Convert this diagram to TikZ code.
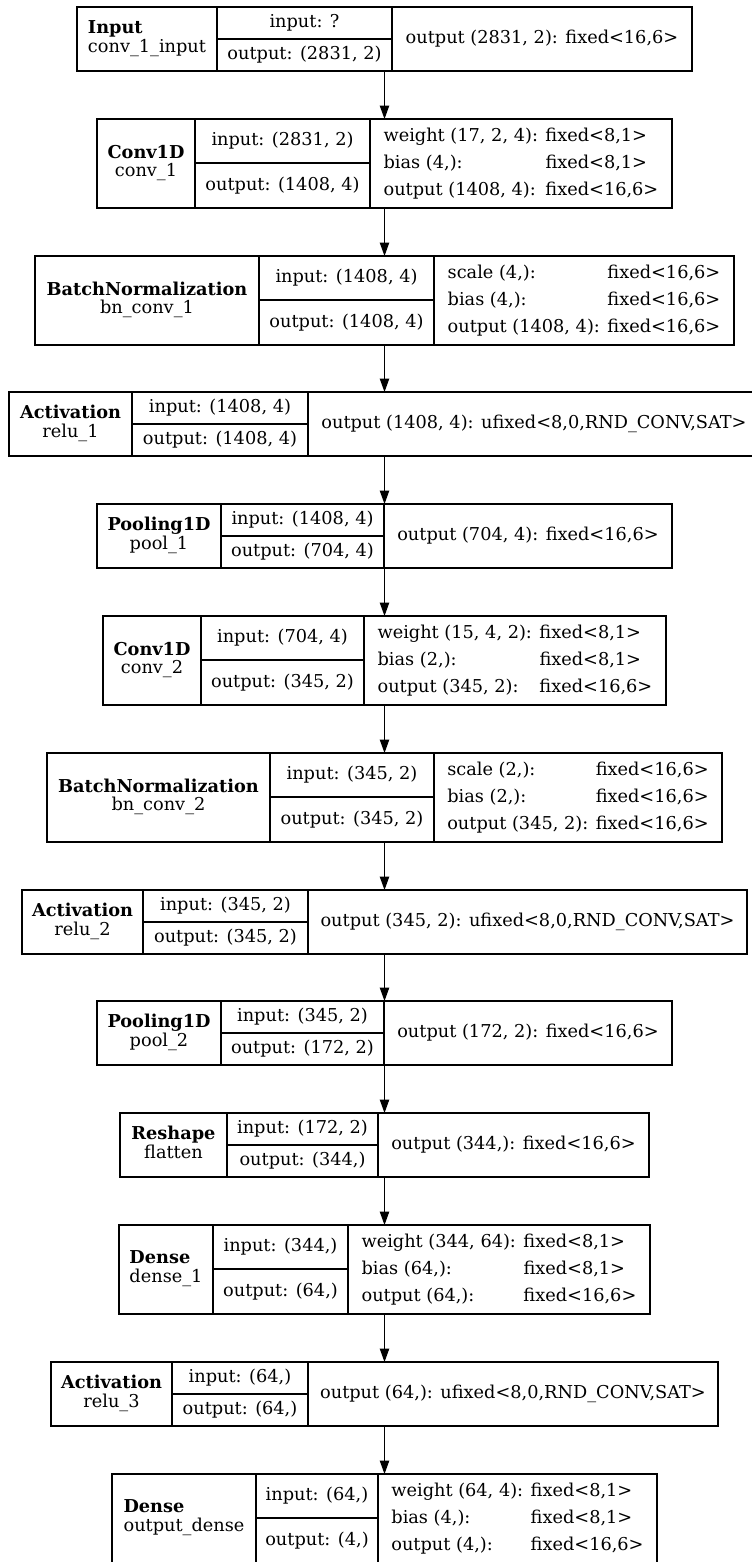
\documentclass[tikz,border=0pt]{standalone}
\usepackage{fontspec}
\setmainfont{DejaVu Serif}
\usepackage{tikz}
\usetikzlibrary{arrows.meta,fit}

% layer label: bold class line left, layer name centred under it
\newcommand{\lyrname}[2]{%
  \begin{tabular}{@{}c@{}}\multicolumn{1}{@{}l@{}}{\textbf{#1}}\\#2\end{tabular}}

\begin{document}
\begin{tikzpicture}[x=0.75pt,y=-0.75pt]
  \tikzset{
    cellwd/.style={minimum width=#1*0.75pt},
    cellht/.style={minimum height=#1*0.75pt},
    cellbox/.style={
      draw=black,
      line width=0.8pt,
      fill=white,
      anchor=north west,
      inner sep=0pt,
      outer sep=0pt,
      font=\fontsize{13.3}{20.2}\selectfont
    },
    namecell/.style={cellbox,font=\fontsize{13.3}{13.6}\selectfont},
    iocell/.style={cellbox},
    parcell/.style={cellbox},
    record/.style={inner sep=0pt,outer sep=0pt},
    layerarrow/.style={
      -{Triangle[length=10pt,width=7pt]},
      draw=black,
      line width=0.8pt
    }
  }

  \fill[white] (0,0) rectangle (751,1562);
  \useasboundingbox (0,0) rectangle (751,1562);

  % ------------------------------------------------------------------
  % Input and first convolution block
  % ------------------------------------------------------------------
  \node[namecell,cellwd=140,cellht=64] (n1) at (77,7) {\lyrname{Input}{conv\_1\_input}};
  \node[iocell,cellwd=175,cellht=32] (i1) at (217,7) {input: ?};
  \node[iocell,cellwd=175,cellht=32] (o1) at (217,39) {output: (2831, 2)};
  \node[parcell,cellwd=300,cellht=64] (p1) at (392,7) {output (2831, 2): fixed<16,6>};
  \node[record,fit=(n1)(p1)] (l1) {};

  \node[namecell,cellwd=98,cellht=89] (n2) at (97,119) {\lyrname{Conv1D}{conv\_1}};
  \node[iocell,cellwd=175,cellht=44] (i2) at (195,119) {input: (2831, 2)};
  \node[iocell,cellwd=175,cellht=45] (o2) at (195,163) {output: (1408, 4)};
  \node[parcell,cellwd=302,cellht=89] (p2) at (370,119)
    {\begin{tabular}{@{}l@{ }l@{}}
     weight (17, 2, 4): & fixed<8,1>\\
     bias (4,): & fixed<8,1>\\
     output (1408, 4): & fixed<16,6>
     \end{tabular}};
  \node[record,fit=(n2)(p2)] (l2) {};

  \node[namecell,cellwd=224,cellht=89] (n3) at (35,256) {\lyrname{BatchNormalization}{bn\_conv\_1}};
  \node[iocell,cellwd=175,cellht=44] (i3) at (259,256) {input: (1408, 4)};
  \node[iocell,cellwd=175,cellht=45] (o3) at (259,300) {output: (1408, 4)};
  \node[parcell,cellwd=300,cellht=89] (p3) at (434,256)
    {\begin{tabular}{@{}l@{}}
     scale (4,):\hfill fixed<16,6>\\
     bias (4,):\hfill fixed<16,6>\\
     output (1408, 4): fixed<16,6>
     \end{tabular}};
  \node[record,fit=(n3)(p3)] (l3) {};

  \node[namecell,cellwd=123,cellht=64] (n4) at (9,392) {\lyrname{Activation}{relu\_1}};
  \node[iocell,cellwd=176,cellht=32] (i4) at (132,392) {input: (1408, 4)};
  \node[iocell,cellwd=176,cellht=32] (o4) at (132,424) {output: (1408, 4)};
  \node[parcell,cellwd=452,cellht=64] (p4) at (308,392) {output (1408, 4): ufixed<8,0,RND\_CONV,SAT>};
  \node[record,fit=(n4)(p4)] (l4) {};

  \node[namecell,cellwd=124,cellht=64] (n5) at (97,504) {\lyrname{Pooling1D}{pool\_1}};
  \node[iocell,cellwd=163,cellht=32] (i5) at (221,504) {input: (1408, 4)};
  \node[iocell,cellwd=163,cellht=32] (o5) at (221,536) {output: (704, 4)};
  \node[parcell,cellwd=288,cellht=64] (p5) at (384,504) {output (704, 4): fixed<16,6>};
  \node[record,fit=(n5)(p5)] (l5) {};

  % ------------------------------------------------------------------
  % Second convolution block
  % ------------------------------------------------------------------
  \node[namecell,cellwd=98,cellht=89] (n6) at (103,616) {\lyrname{Conv1D}{conv\_2}};
  \node[iocell,cellwd=163,cellht=44] (i6) at (201,616) {input: (704, 4)};
  \node[iocell,cellwd=163,cellht=45] (o6) at (201,660) {output: (345, 2)};
  \node[parcell,cellwd=302,cellht=89] (p6) at (364,616)
    {\begin{tabular}{@{}l@{ }l@{}}
     weight (15, 4, 2): & fixed<8,1>\\
     bias (2,): & fixed<8,1>\\
     output (345, 2): & fixed<16,6>
     \end{tabular}};
  \node[record,fit=(n6)(p6)] (l6) {};

  \node[namecell,cellwd=223,cellht=89] (n7) at (47,753) {\lyrname{BatchNormalization}{bn\_conv\_2}};
  \node[iocell,cellwd=164,cellht=44] (i7) at (270,753) {input: (345, 2)};
  \node[iocell,cellwd=164,cellht=45] (o7) at (270,797) {output: (345, 2)};
  \node[parcell,cellwd=288,cellht=89] (p7) at (434,753)
    {\begin{tabular}{@{}l@{}}
     scale (2,):\hfill fixed<16,6>\\
     bias (2,):\hfill fixed<16,6>\\
     output (345, 2): fixed<16,6>
     \end{tabular}};
  \node[record,fit=(n7)(p7)] (l7) {};

  \node[namecell,cellwd=121,cellht=64] (n8) at (22,890) {\lyrname{Activation}{relu\_2}};
  \node[iocell,cellwd=165,cellht=32] (i8) at (143,890) {input: (345, 2)};
  \node[iocell,cellwd=165,cellht=32] (o8) at (143,922) {output: (345, 2)};
  \node[parcell,cellwd=439,cellht=64] (p8) at (308,890) {output (345, 2): ufixed<8,0,RND\_CONV,SAT>};
  \node[record,fit=(n8)(p8)] (l8) {};

  \node[namecell,cellwd=124,cellht=64] (n9) at (97,1001) {\lyrname{Pooling1D}{pool\_2}};
  \node[iocell,cellwd=163,cellht=32] (i9) at (221,1001) {input: (345, 2)};
  \node[iocell,cellwd=163,cellht=32] (o9) at (221,1033) {output: (172, 2)};
  \node[parcell,cellwd=288,cellht=64] (p9) at (384,1001) {output (172, 2): fixed<16,6>};
  \node[record,fit=(n9)(p9)] (l9) {};

  % ------------------------------------------------------------------
  % Dense head
  % ------------------------------------------------------------------
  \node[namecell,cellwd=107,cellht=64] (n10) at (120,1113) {\lyrname{Reshape}{flatten}};
  \node[iocell,cellwd=151,cellht=32] (i10) at (227,1113) {input: (172, 2)};
  \node[iocell,cellwd=151,cellht=32] (o10) at (227,1145) {output: (344,)};
  \node[parcell,cellwd=271,cellht=64] (p10) at (378,1113) {output (344,): fixed<16,6>};
  \node[record,fit=(n10)(p10)] (l10) {};

  \node[namecell,cellwd=94,cellht=89] (n11) at (119,1225) {\lyrname{Dense}{dense\_1}};
  \node[iocell,cellwd=135,cellht=44] (i11) at (213,1225) {input: (344,)};
  \node[iocell,cellwd=135,cellht=45] (o11) at (213,1269) {output: (64,)};
  \node[parcell,cellwd=302,cellht=89] (p11) at (348,1225)
    {\begin{tabular}{@{}l@{ }l@{}}
     weight (344, 64): & fixed<8,1>\\
     bias (64,): & fixed<8,1>\\
     output (64,): & fixed<16,6>
     \end{tabular}};
  \node[record,fit=(n11)(p11)] (l11) {};

  \node[namecell,cellwd=121,cellht=64] (n12) at (51,1362) {\lyrname{Activation}{relu\_3}};
  \node[iocell,cellwd=136,cellht=32] (i12) at (172,1362) {input: (64,)};
  \node[iocell,cellwd=136,cellht=32] (o12) at (172,1394) {output: (64,)};
  \node[parcell,cellwd=410,cellht=64] (p12) at (308,1362) {output (64,): ufixed<8,0,RND\_CONV,SAT>};
  \node[record,fit=(n12)(p12)] (l12) {};

  \node[namecell,cellwd=144,cellht=89] (n13) at (112,1474) {\lyrname{Dense}{output\_dense}};
  \node[iocell,cellwd=122,cellht=44] (i13) at (256,1474) {input: (64,)};
  \node[iocell,cellwd=122,cellht=45] (o13) at (256,1518) {output: (4,)};
  \node[parcell,cellwd=279,cellht=89] (p13) at (378,1474)
    {\begin{tabular}{@{}l@{ }l@{}}
     weight (64, 4): & fixed<8,1>\\
     bias (4,): & fixed<8,1>\\
     output (4,): & fixed<16,6>
     \end{tabular}};
  \node[record,fit=(n13)(p13)] (l13) {};

  % layer to layer
  \draw[layerarrow] (l1.south) -- (l2.north);
  \draw[layerarrow] (l2.south) -- (l3.north);
  \draw[layerarrow] (l3.south) -- (l4.north);
  \draw[layerarrow] (l4.south) -- (l5.north);
  \draw[layerarrow] (l5.south) -- (l6.north);
  \draw[layerarrow] (l6.south) -- (l7.north);
  \draw[layerarrow] (l7.south) -- (l8.north);
  \draw[layerarrow] (l8.south) -- (l9.north);
  \draw[layerarrow] (l9.south) -- (l10.north);
  \draw[layerarrow] (l10.south) -- (l11.north);
  \draw[layerarrow] (l11.south) -- (l12.north);
  \draw[layerarrow] (l12.south) -- (l13.north);
\end{tikzpicture}
\end{document}
